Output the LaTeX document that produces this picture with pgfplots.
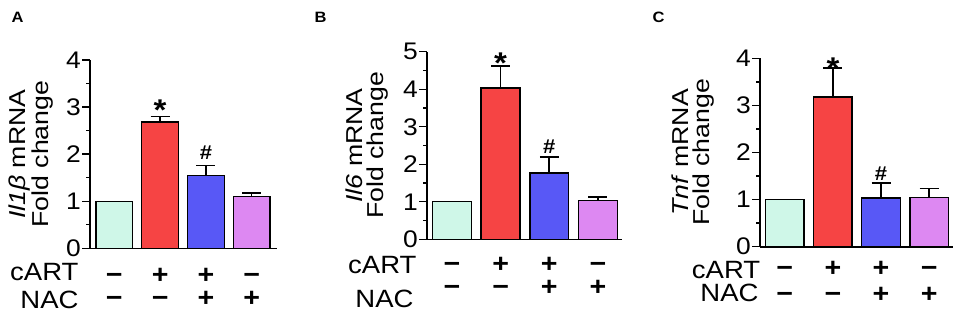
\documentclass[border=0pt]{standalone}
\usepackage{fontspec}
\setmainfont{Liberation Sans}[FakeStretch=1.1]
\newfontfamily\lblfont{Liberation Sans}[FakeStretch=1.16]
\usepackage{pgfplots}
\pgfplotsset{compat=1.18}

\definecolor{cmint}{HTML}{CFF7E8}
\definecolor{cred}{HTML}{F64444}
\definecolor{cblue}{HTML}{5858F6}
\definecolor{cviol}{HTML}{DD88F2}

\newcommand{\SG}[2]{\begin{tabular}[t]{@{}c@{}}#1\\#2\end{tabular}}

\tikzset{rowlab/.style={anchor=base east, font=\fontsize{25}{25}\selectfont}}
\pgfplotsset{
  panel/.style={
    scale only axis, clip=false, anchor=south west,
    axis x line*=bottom, axis y line*=left,
    axis line style={line width=1.6pt, black},
    tick align=outside,
    major tick length=8pt, minor tick length=4pt,
    tick style={line width=1.4pt, black},
    major x tick style={draw=none},
    minor y tick num=1,
    xtick={0,1,2,3},
    xticklabels={\SG{−}{−},\SG{+}{−},\SG{+}{+},\SG{−}{+}},
    xticklabel style={anchor=base, font=\fontsize{26}{23}\selectfont\bfseries},
    yticklabel style={font=\fontsize{24}{24}\selectfont, inner xsep=1pt},
    /pgf/number format/assume math mode=true,
    ylabel style={font=\lblfont\fontsize{23}{21}\selectfont, align=center, anchor=center},
    bar width=0.8,
  },
  plainbar/.style={ybar, bar shift=0pt, draw=black, line width=1.4pt},
  bars/.style={ybar, bar shift=0pt, draw=black, line width=1.4pt,
    error bars/y dir=plus, error bars/y explicit,
    error bars/error bar style={line width=1.6pt, black},
    error bars/error mark options={line width=1.6pt, black, mark size=9.5pt, rotate=90}},
  star/.style={draw=none, mark=none, nodes near coords={\bfseries *},
    every node near coord/.append style={anchor=center, text height=36pt, text depth=0pt,
      font=\fontsize{30}{30}\selectfont}},
  hash/.style={draw=none, mark=none, nodes near coords={\bfseries \#},
    every node near coord/.append style={anchor=center, font=\fontsize{20}{20}\selectfont}},
}

\begin{document}
\begin{tikzpicture}
\useasboundingbox (0,0) rectangle (957pt,317pt);
\node[anchor=base west, font=\bfseries\fontsize{15}{15}\selectfont] at (8pt,294.3pt) {A};
\node[anchor=base west, font=\bfseries\fontsize{15}{15}\selectfont] at (311pt,294.3pt) {B};
\node[anchor=base west, font=\bfseries\fontsize{15}{15}\selectfont] at (649pt,294.3pt) {C};

% Panel A
\begin{axis}[panel, at={(90pt,68.7pt)}, width=186.7pt, height=188.3pt,
  xmin=-0.531, xmax=3.546, ymin=0, ymax=4, ytick={0,1,2,3,4},
  xticklabel style={yshift=-26.7pt},
  ylabel={\textit{Il1β} mRNA\\Fold change},
  ylabel style={at={(axis description cs:-0.316,0.5)}}]
\addplot[fill=cmint, plainbar] coordinates {(0,1.0)};
\addplot[fill=cred, bars] coordinates {(1,2.68) +- (0,0.12)};
\addplot[fill=cblue, bars] coordinates {(2,1.545) +- (0,0.215)};
\addplot[fill=cviol, bars] coordinates {(3,1.10) +- (0,0.07)};
\addplot[star] coordinates {(1,3.09)};
\addplot[hash] coordinates {(2,2.04)};
\node[rowlab] at ([xshift=-8pt,yshift=-31.7pt]axis description cs:0,0) {cART};
\node[rowlab] at ([xshift=-8pt,yshift=-60pt]axis description cs:0,0) {NAC};
\end{axis}

% Panel B
\begin{axis}[panel, at={(427pt,77.7pt)}, width=194.7pt, height=187.6pt,
  xmin=-0.514, xmax=3.49, ymin=0, ymax=5, ytick={0,1,2,3,4,5},
  xticklabel style={yshift=-24.7pt, font=\fontsize{26}{23}\selectfont\bfseries},
  ylabel={\textit{Il6} mRNA\\Fold change},
  ylabel style={at={(axis description cs:-0.308,0.5)}}]
\addplot[fill=cmint, plainbar] coordinates {(0,1.0)};
\addplot[fill=cred, bars] coordinates {(1,4.03) +- (0,0.59)};
\addplot[fill=cblue, bars] coordinates {(2,1.77) +- (0,0.43)};
\addplot[fill=cviol, bars] coordinates {(3,1.03) +- (0,0.09)};
\addplot[star] coordinates {(1,4.91)};
\addplot[hash] coordinates {(2,2.47)};
\node[rowlab] at ([xshift=-7pt,yshift=-34.2pt]axis description cs:0,0) {cART};
\node[rowlab] at ([xshift=-10pt,yshift=-68pt]axis description cs:0,0) {NAC};
\end{axis}

% Panel C
\begin{axis}[panel, at={(760pt,70.3pt)}, width=193pt, height=188.4pt,
  xmin=-0.516, xmax=3.497, ymin=0, ymax=4, ytick={0,1,2,3,4},
  xticklabel style={yshift=-21.8pt, font=\fontsize{26}{26}\selectfont\bfseries},
  ylabel={\textit{Tnf} mRNA\\Fold change},
  ylabel style={at={(axis description cs:-0.345,0.5)}}]
\addplot[fill=cmint, plainbar] coordinates {(0,1.0)};
\addplot[fill=cred, bars] coordinates {(1,3.18) +- (0,0.61)};
\addplot[fill=cblue, bars] coordinates {(2,1.03) +- (0,0.32)};
\addplot[fill=cviol, bars] coordinates {(3,1.04) +- (0,0.20)};
\addplot[star] coordinates {(1,3.96)};
\addplot[hash] coordinates {(2,1.56)};
\node[rowlab] at ([xshift=3.7pt,yshift=-31.8pt]axis description cs:0,0) {cART};
\node[rowlab] at ([xshift=2pt,yshift=-54.8pt]axis description cs:0,0) {NAC};
\end{axis}
\end{tikzpicture}
\end{document}
